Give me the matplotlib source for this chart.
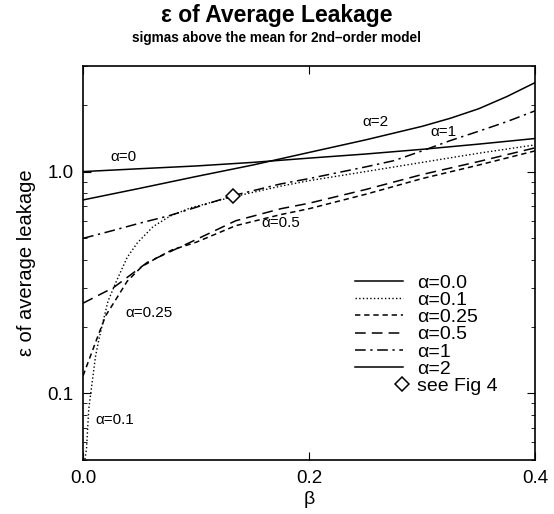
import numpy as np
import matplotlib
matplotlib.use('Agg')
from matplotlib import pyplot as plt
from matplotlib.lines import Line2D
from matplotlib.legend_handler import HandlerBase
from matplotlib.ticker import FixedLocator, NullFormatter

plt.rcParams['font.family'] = ['Liberation Sans', 'DejaVu Sans']

# ---------------------------- data -------------------
beta_a0 = [0.0, 0.05, 0.1, 0.15, 0.2, 0.25, 0.3, 0.35, 0.4]
eps_a0 = [1.0, 1.03, 1.06, 1.10, 1.15, 1.20, 1.26, 1.33, 1.41]

beta_a01 = [0.0, 0.003, 0.005, 0.008, 0.011, 0.014, 0.018, 0.022, 0.03, 0.039,
            0.048, 0.062, 0.077, 0.095, 0.115, 0.133, 0.175, 0.2, 0.25, 0.3,
            0.35, 0.4]
eps_a01 = [0.045, 0.056, 0.085, 0.112, 0.147, 0.175, 0.214, 0.26, 0.325, 0.41,
           0.477, 0.565, 0.63, 0.686, 0.73, 0.77, 0.86, 0.91, 1.0, 1.10,
           1.21, 1.32]

beta_a025 = [0.0, 0.003, 0.012, 0.02, 0.03, 0.039, 0.052, 0.066, 0.079, 0.1,
             0.135, 0.175, 0.2, 0.25, 0.3, 0.35, 0.4]
eps_a025 = [0.12, 0.132, 0.175, 0.224, 0.27, 0.32, 0.373, 0.41, 0.444, 0.48,
            0.57, 0.64, 0.68, 0.79, 0.93, 1.07, 1.24]

beta_a05 = [0.0, 0.027, 0.057, 0.079, 0.095, 0.135, 0.175, 0.2, 0.25, 0.3,
            0.35, 0.4]
eps_a05 = [0.255, 0.30, 0.39, 0.44, 0.48, 0.60, 0.68, 0.72, 0.83, 0.97,
           1.11, 1.28]

beta_a1 = [0.0, 0.025, 0.05, 0.075, 0.1, 0.133, 0.175, 0.2, 0.25, 0.275,
           0.3, 0.325, 0.35, 0.375, 0.4]
eps_a1 = [0.50, 0.54, 0.585, 0.63, 0.69, 0.78, 0.88, 0.93, 1.05, 1.12,
          1.24, 1.38, 1.52, 1.68, 1.88]

beta_a2 = [0.0, 0.05, 0.1, 0.15, 0.2, 0.25, 0.3, 0.325, 0.35, 0.375, 0.4]
eps_a2 = [0.745, 0.84, 0.95, 1.07, 1.22, 1.39, 1.60, 1.74, 1.92, 2.18, 2.52]

fig4_beta = [0.1327]
fig4_eps = [0.777]

# -------------------------------------------------------------------------

class DiamondHandler(HandlerBase):
    def create_artists(self, legend, orig_handle, xdescent, ydescent,
                       width, height, fontsize, trans):
        m = Line2D([width - xdescent - 1], [height / 2. - ydescent],
                   marker='D', ms=7, mfc='white', mec='black', mew=1.1,
                   ls='none', transform=trans)
        return [m]


fig = plt.figure(figsize=(5.54, 5.14), dpi=100)
fig.subplots_adjust(left=0.150, right=0.966, bottom=0.105, top=0.872)
ax = fig.add_subplot(111)

lw = 1.1
ax.plot(beta_a0, eps_a0, '-', color='black', lw=lw, label='α=0.0')
ax.plot(beta_a01, eps_a01, ':', color='black', lw=1.0, label='α=0.1')
ax.plot(beta_a025, eps_a025, color='black', lw=lw, dashes=(3.5, 2.5), label='α=0.25')
ax.plot(beta_a05, eps_a05, color='black', lw=lw, dashes=(7, 4), label='α=0.5')
ax.plot(beta_a1, eps_a1, color='black', lw=lw, dashes=(7, 3, 1.5, 3), label='α=1')
ax.plot(beta_a2, eps_a2, '-', color='black', lw=lw, label='α=2')
dia, = ax.plot(fig4_beta, fig4_eps, 'D', ms=7, mfc='white', mec='black', mew=1.1,
               label='see Fig 4')

ax.set_yscale('log')
ax.set_xlim(0, 0.4)
ax.set_ylim(0.05, 3.0)
ax.set_xticks([0.0, 0.2, 0.4])
ax.set_xticklabels(['0.0', '0.2', '0.4'])
ax.yaxis.set_major_locator(FixedLocator([0.1, 1.0]))
ax.set_yticklabels(['0.1', '1.0'])
ax.yaxis.set_minor_locator(FixedLocator([0.05, 0.06, 0.07, 0.08, 0.09, 0.2, 0.3, 0.4,
                                         0.5, 0.6, 0.7, 0.8, 0.9, 2.0, 3.0]))
ax.yaxis.set_minor_formatter(NullFormatter())
ax.tick_params(which='both', direction='in', top=True, right=True, labelsize=13.5, pad=7)
ax.tick_params(which='major', length=6)
ax.tick_params(which='minor', length=3)
for s in ax.spines.values():
    s.set_linewidth(1.2)

ax.set_xlabel('β', fontsize=14, labelpad=3)
ax.set_ylabel('ε of average leakage', fontsize=14.5, labelpad=8)

# curve labels
fs = 11
ax.text(0.024, 1.165, 'α=0', fontsize=fs, va='center')
ax.text(0.247, 1.675, 'α=2', fontsize=fs, va='center')
ax.text(0.307, 1.51, 'α=1', fontsize=fs, va='center')
ax.text(0.158, 0.587, 'α=0.5', fontsize=fs, va='center')
ax.text(0.037, 0.231, 'α=0.25', fontsize=fs, va='center')
ax.text(0.0106, 0.076, 'α=0.1', fontsize=fs, va='center')

ax.legend(loc='lower left', bbox_to_anchor=(0.602, 0.165), frameon=False,
          fontsize=14, handlelength=2.47, handletextpad=0.72, labelspacing=-0.02,
          borderpad=0, borderaxespad=0,
          handler_map={dia: DiamondHandler()})

fig.text(0.5, 0.970, 'ε of Average Leakage', ha='center', va='center',
         fontsize=16.5, fontweight='bold')
fig.text(0.5, 0.926, 'sigmas above the mean for 2nd–order model', ha='center',
         va='center', fontsize=9.8, fontweight='bold')

fig.savefig('out.png', dpi=100)
